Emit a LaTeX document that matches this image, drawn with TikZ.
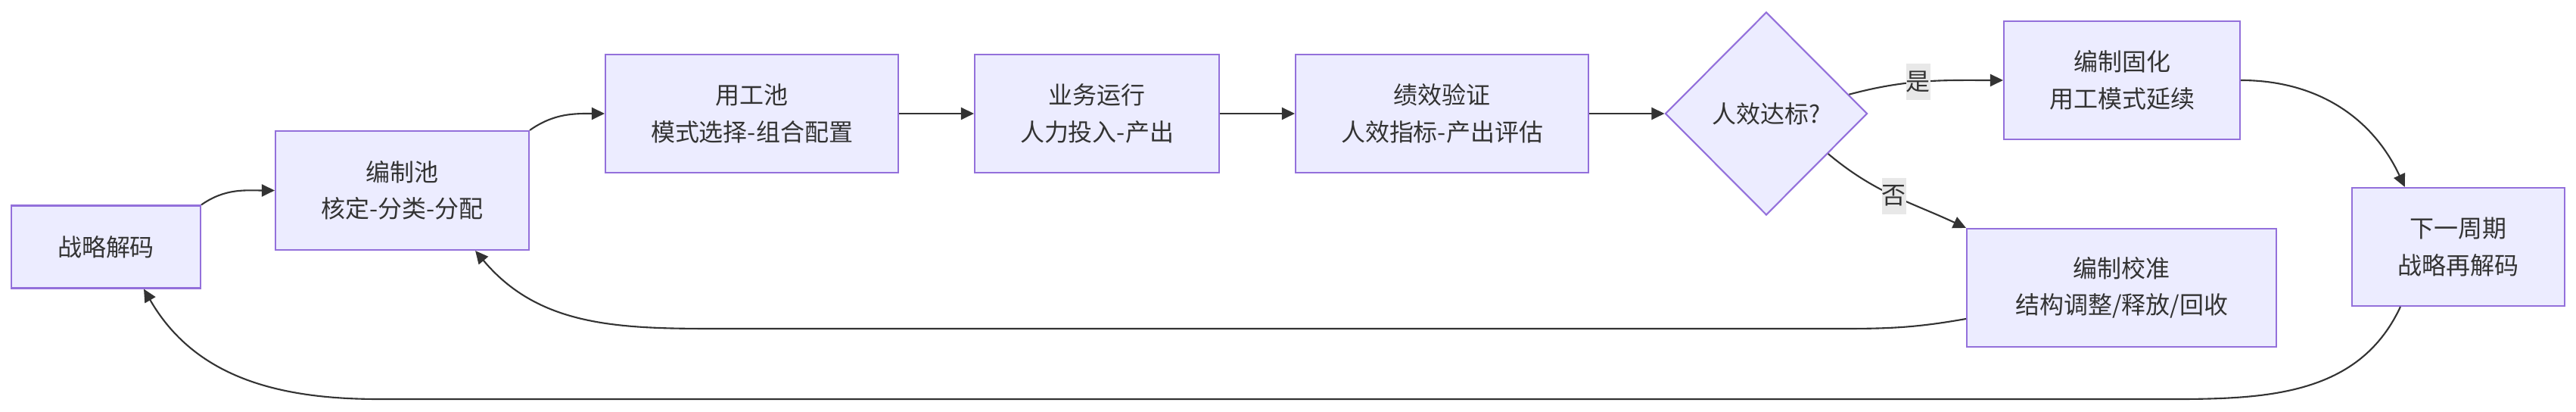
\documentclass[tikz,border=0pt]{standalone}
\usepackage{fontspec}
\setmainfont{Noto Sans CJK SC}
\usetikzlibrary{arrows.meta,shapes.geometric,calc}
\definecolor{boxfill}{HTML}{ECECFF}
\definecolor{boxline}{HTML}{9370DB}
\definecolor{inkgray}{HTML}{333333}
\definecolor{labelbg}{HTML}{E8E8E8}

\begin{document}
\begin{tikzpicture}[
    box/.style={draw=boxline, fill=boxfill, line width=0.6pt, inner sep=0pt,
        align=center, text=inkgray, minimum height=1.56cm},
    decision/.style={diamond, draw=boxline, fill=boxfill, line width=0.6pt,
        inner sep=0pt, minimum width=2.67cm, minimum height=2.68cm, text=inkgray},
    flow/.style={draw=inkgray, line width=0.6pt,
        -{Triangle[length=0.17cm,width=0.16cm]}},
    edgelabel/.style={fill=labelbg, text=inkgray, inner sep=0pt,
        minimum width=0.32cm, minimum height=0.48cm},
    font=\fontsize{9.1pt}{13.8pt}\selectfont
]
    \useasboundingbox (0,0) rectangle (34.04,-5.44);

    % Main chain
    \node[box, minimum width=2.50cm, minimum height=1.09cm] (decode) at (1.40,-3.26) {战略解码};
    \node[box, minimum width=3.35cm, minimum height=1.57cm] (pool) at (5.315,-2.515) {编制池\\核定-分类-分配};
    \node[box, minimum width=3.87cm] (staff) at (9.935,-1.50) {用工池\\模式选择-组合配置};
    \node[box, minimum width=3.23cm] (run) at (14.495,-1.50) {业务运行\\人力投入-产出};
    \node[box, minimum width=3.87cm] (check) at (19.055,-1.50) {绩效验证\\人效指标-产出评估};

    % Decision and outcomes
    \node[decision] (ok) at (23.34,-1.50) {人效达标?};
    \node[box, minimum width=3.12cm] (fix) at (28.04,-1.06) {编制固化\\用工模式延续};
    \node[box, minimum width=4.09cm] (tune) at (28.035,-3.80) {编制校准\\结构调整/释放/回收};
    \node[box, minimum width=2.81cm] (next) at (32.485,-3.26) {下一周期\\战略再解码};

    % Forward arrows
    \draw[flow] (decode.north east) to[out=35,in=180] (pool.west);
    \draw[flow] (pool.north east) to[out=35,in=180] (staff.west);
    \draw[flow] (staff) -- (run);
    \draw[flow] (run) -- (check);
    \draw[flow] (check) -- (ok);

    % Branches
    \draw[flow] (ok.13) to[out=15,in=180]
        node[edgelabel, pos=0.45] (yes) {是} (fix.west);
    \draw[flow] (ok.-33) to[out=-40,in=155]
        node[edgelabel, pos=0.5] (no) {否} (tune.north west);
    \draw[flow] (fix.east) to[out=0,in=115] ($(next.north west)!0.25!(next.north east)$);

    % Feedback loops
    \draw[flow] ($(tune.west)+(0,-0.41)$) to[out=190,in=0] (24.4,-4.34)
        -- (9.4,-4.34) to[out=180,in=-50] ($(pool.south east)+(-0.72,0)$);
    \draw[flow] ($(next.south west)+(0.65,0)$) to[out=245,in=0] (28.3,-5.27)
        -- (5.0,-5.27) to[out=180,in=-60] ($(decode.south)+(0.5,0)$);
\end{tikzpicture}
\end{document}
